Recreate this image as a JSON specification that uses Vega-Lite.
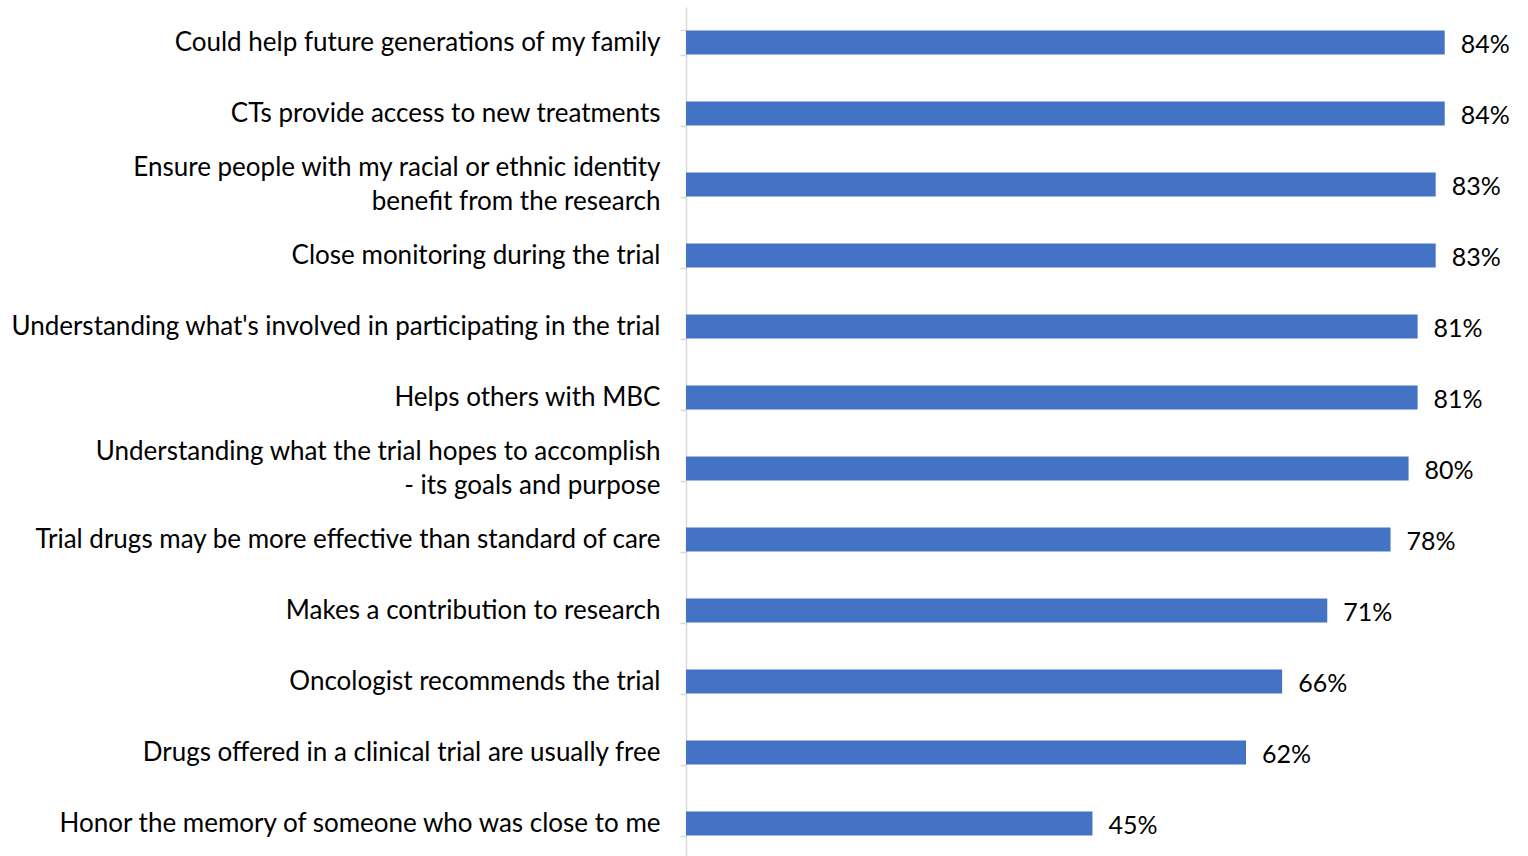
{
  "$schema": "https://vega.github.io/schema/vega-lite/v6.json",
  "width": 840,
  "height": 852,
  "autosize": {"type": "none"},
  "padding": {"left": 686, "top": 7, "right": 0, "bottom": 0},
  "background": "white",
  "config": {"view": {"stroke": null}, "font": "Lato"},
  "data": {
    "values": [
      {"label": "Could help future generations of my family", "value": 0.84},
      {"label": "CTs provide access to new treatments", "value": 0.84},
      {"label": "Ensure people with my racial or ethnic identity|benefit from the research", "value": 0.83},
      {"label": "Close monitoring during the trial", "value": 0.83},
      {"label": "Understanding what's involved in participating in the trial", "value": 0.81},
      {"label": "Helps others with MBC", "value": 0.81},
      {"label": "Understanding what the trial hopes to accomplish|- its goals and purpose", "value": 0.80},
      {"label": "Trial drugs may be more effective than standard of care", "value": 0.78},
      {"label": "Makes a contribution to research", "value": 0.71},
      {"label": "Oncologist recommends the trial", "value": 0.66},
      {"label": "Drugs offered in a clinical trial are usually free", "value": 0.62},
      {"label": "Honor the memory of someone who was close to me", "value": 0.45}
    ]
  },
  "encoding": {
    "y": {
      "field": "label",
      "type": "nominal",
      "sort": null,
      "title": null,
      "scale": {"paddingInner": 0.66, "paddingOuter": 0.33},
      "axis": {
        "domainColor": "#d9d9d9",
        "domainWidth": 1.5,
        "tickColor": "#d9d9d9",
        "tickWidth": 1.5,
        "tickSize": 6,
        "tickBand": "extent",
        "labelPadding": 20,
        "labelFont": "Lato",
        "labelFontSize": 26,
        "labelColor": "#000000",
        "labelLimit": 700,
        "labelLineHeight": 34,
        "labelOffset": {"condition": {"test": "indexof(datum.label, '|') >= 0", "value": -17}, "value": 0},
        "labelExpr": "split(datum.label, '|')"
      }
    },
    "x": {
      "field": "value",
      "type": "quantitative",
      "scale": {"domain": [0, 0.93]},
      "axis": null
    }
  },
  "layer": [
    {"mark": {"type": "bar", "color": "#4472C4"}},
    {
      "mark": {"type": "text", "align": "left", "baseline": "middle", "dx": 16, "dy": 2, "fontSize": 25, "font": "Lato", "color": "#000000"},
      "encoding": {"text": {"field": "value", "type": "quantitative", "format": ".0%"}}
    }
  ]
}
